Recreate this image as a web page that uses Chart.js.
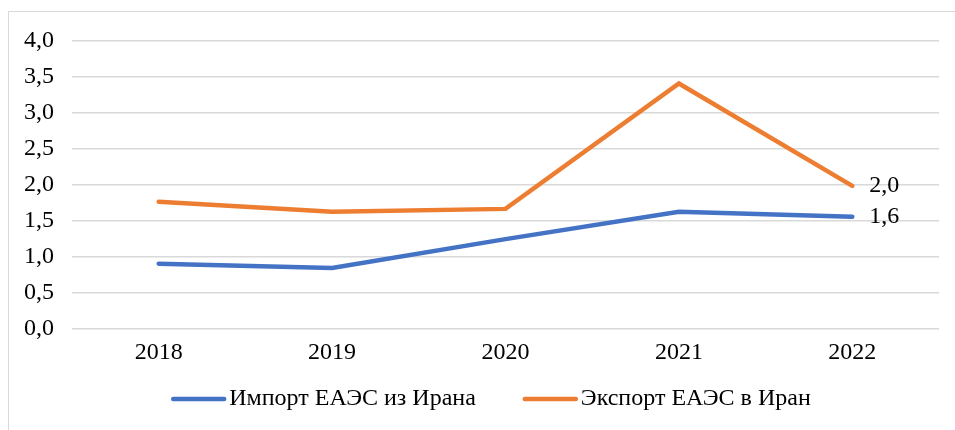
<!DOCTYPE html>
<html>
<head>
<meta charset="utf-8">
<script src="https://cdn.jsdelivr.net/npm/chart.js@4.4.0/dist/chart.umd.min.js"></script>
<style>
  body { margin: 0; background: #fff; overflow: hidden; }
  #frame { position: absolute; left: 8px; top: 11px; width: 1000px; height: 500px; border: 1px solid #d9d9d9; box-sizing: border-box; }
  #wrap { position: absolute; left: 0; top: 0; width: 955px; height: 430px; }
</style>
</head>
<body>
<div id="frame"></div>
<div id="wrap"><canvas id="chart"></canvas></div>
<script>
const years = ["2018", "2019", "2020", "2021", "2022"];
const importVals = [0.91, 0.85, 1.25, 1.63, 1.56];
const exportVals = [1.77, 1.63, 1.67, 3.41, 1.99];
const seriesNames = ["Импорт ЕАЭС из Ирана", "Экспорт ЕАЭС в Иран"];

const fmt = (v) => v.toFixed(1).replace(".", ",");
const fam = "'Liberation Serif', serif";
const serif = { family: fam, size: 24 };

Chart.defaults.font.family = fam;
Chart.defaults.font.size = 24;
Chart.defaults.color = "#000";

// подпись значения у последней точки
const lastLabel = {
  id: "lastLabel",
  afterDatasetsDraw(chart) {
    const ctx = chart.ctx;
    ctx.save();
    ctx.font = "24px " + fam;
    ctx.fillStyle = "#000";
    ctx.textBaseline = "middle";
    chart.data.datasets.forEach((ds, i) => {
      const meta = chart.getDatasetMeta(i);
      const pt = meta.data[meta.data.length - 1];
      ctx.fillText(fmt(ds.data[ds.data.length - 1]), pt.x + 17, pt.y);
    });
    ctx.restore();
  }
};

// легенда как в Excel: короткая линия вплотную к тексту
const excelLegend = {
  id: "excelLegend",
  afterDraw(chart) {
    const ctx = chart.ctx;
    const lineW = 55, gapTxt = 3, gapItem = 47, y = 399;
    ctx.save();
    ctx.font = "24px " + fam;
    ctx.textBaseline = "middle";
    const items = chart.data.datasets.map((ds) => ({ ds, w: ctx.measureText(ds.label).width }));
    let total = 0;
    items.forEach((it, i) => { total += lineW + gapTxt + it.w + (i ? gapItem : 0); });
    let x = 491 - total / 2;
    items.forEach((it) => {
      ctx.strokeStyle = it.ds.borderColor;
      ctx.lineWidth = 4.5;
      ctx.lineCap = "round";
      ctx.beginPath();
      ctx.moveTo(x + 2, y);
      ctx.lineTo(x + lineW - 2, y);
      ctx.stroke();
      ctx.fillStyle = "#000";
      ctx.fillText(it.ds.label, x + lineW + gapTxt, y);
      x += lineW + gapTxt + it.w + gapItem;
    });
    ctx.restore();
  }
};

new Chart(document.getElementById("chart"), {
  type: "line",
  data: {
    labels: years,
    datasets: [
      { label: seriesNames[0], data: importVals, borderColor: "#4472C4", backgroundColor: "#4472C4", borderWidth: 4.5, pointRadius: 0, borderCapStyle: "round", tension: 0 },
      { label: seriesNames[1], data: exportVals, borderColor: "#ED7D31", backgroundColor: "#ED7D31", borderWidth: 4.5, pointRadius: 0, borderCapStyle: "round", tension: 0 }
    ]
  },
  options: {
    responsive: true,
    maintainAspectRatio: false,
    animation: false,
    layout: { padding: { top: 41, right: 16, bottom: 62, left: 0 } },
    plugins: {
      legend: { display: false },
      tooltip: { enabled: false }
    },
    scales: {
      x: {
        offset: true,
        grid: { display: false },
        border: { display: false },
        ticks: { padding: 1, font: serif }
      },
      y: {
        min: 0,
        max: 4,
        afterFit(scale) { scale.width = 72; },
        grid: { color: "#d9d9d9", lineWidth: 1.5, drawTicks: false },
        border: { display: false },
        ticks: { stepSize: 0.5, padding: 18, font: serif, callback: (v) => fmt(v) }
      }
    }
  },
  plugins: [lastLabel, excelLegend]
});
</script>
</body>
</html>
